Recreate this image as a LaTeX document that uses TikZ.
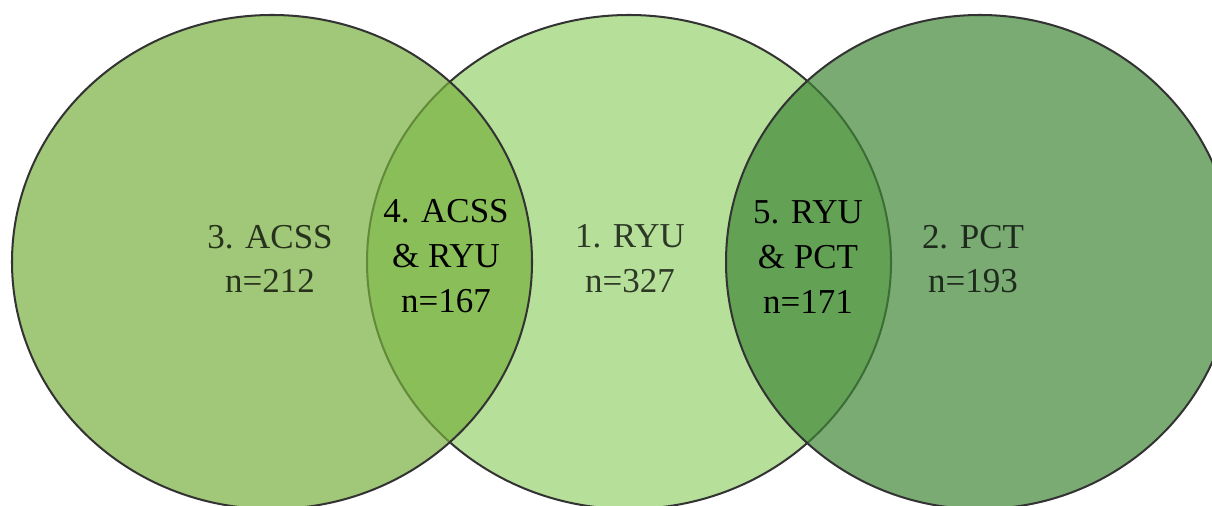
\documentclass[tikz,border=0pt]{standalone}
\usepackage{fontspec}
\setmainfont{Liberation Serif}
\usepackage{tikz}
\definecolor{ryuGreen}{RGB}{182,224,154}
\definecolor{acssGreen}{RGB}{119,176,62}
\definecolor{pctGreen}{RGB}{65,135,56}
\definecolor{rimGray}{RGB}{51,51,51}
\tikzstyle{vSet} = [draw=rimGray, line width=1.15pt]
\tikzstyle{vOuter} = [vSet, fill opacity=0.7]
\tikzstyle{vLabel} = [align=center, inner sep=0pt, font=\fontsize{19.9}{25.5}\selectfont]
\tikzstyle{vSetLabel} = [vLabel, text=black, text opacity=0.75]
\tikzstyle{vCapLabel} = [vLabel, text=black]

\begin{document}
\begin{tikzpicture}[x=0.02cm, y=-0.02cm]
    \useasboundingbox (0,0) rectangle (1212,506);
    \coordinate (cACSS) at (272,262);
    \coordinate (cRYU) at (629,262);
    \coordinate (cPCT) at (980,262);

    \draw [vSet, fill=ryuGreen] (cRYU) ellipse [x radius=262, y radius=247];
    \draw [vOuter, fill=acssGreen] (cACSS) ellipse [x radius=260, y radius=247];
    \draw [vOuter, fill=pctGreen] (cPCT) ellipse [x radius=254, y radius=247];

    \node (acss) [vSetLabel] at (270,259) {3. ACSS\\n=212};
    \node (ryu) [vSetLabel] at (630,259) {1. RYU\\n=327};
    \node (pct) [vSetLabel] at (973,259) {2. PCT\\n=193};
    \node (acssryu) [vCapLabel] at (446,256) {4. ACSS\\\& RYU\\n=167};
    \node (ryupct) [vCapLabel] at (808,257) {5. RYU\\\& PCT\\n=171};
\end{tikzpicture}
\end{document}
